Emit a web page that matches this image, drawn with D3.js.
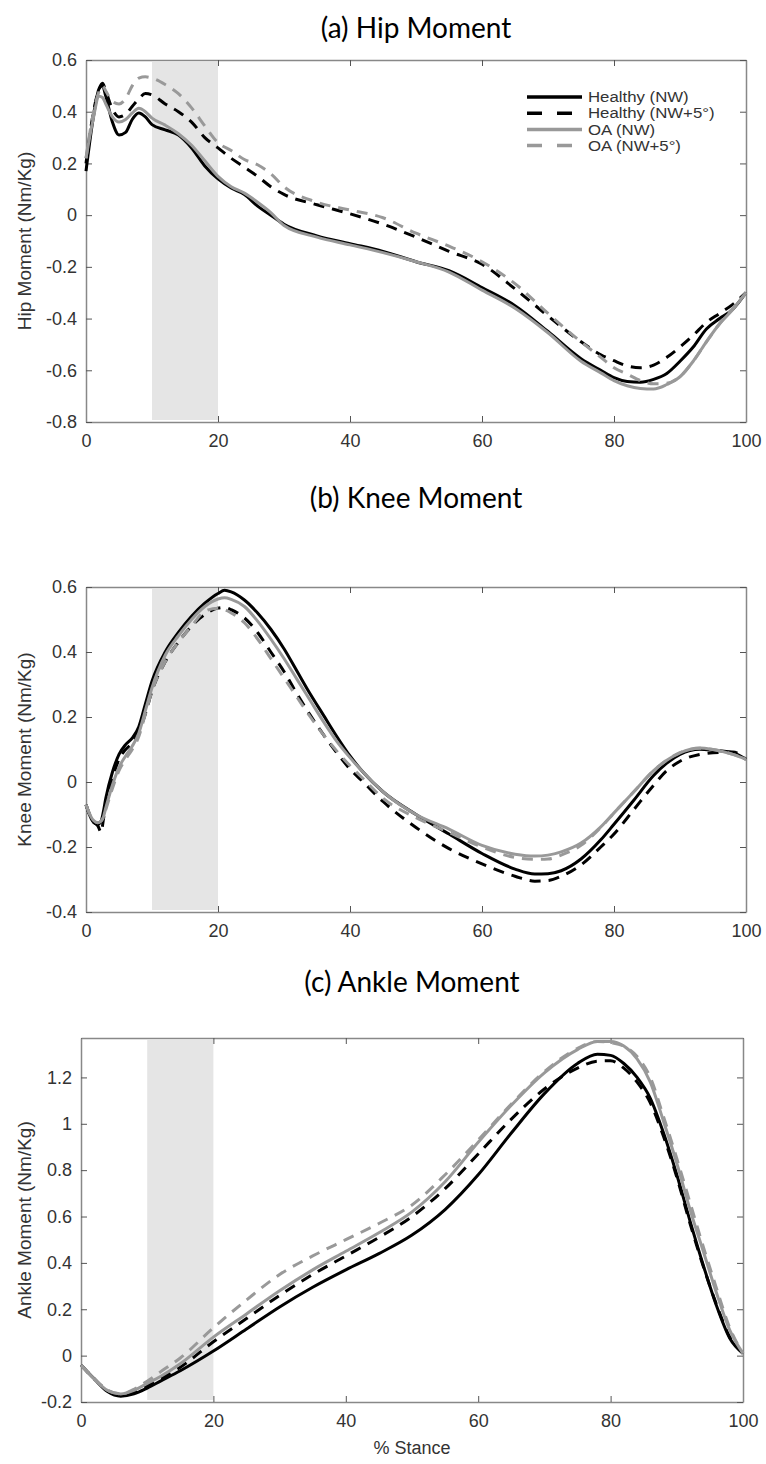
<!DOCTYPE html>
<html>
<head>
<meta charset="utf-8">
<script src="https://cdn.jsdelivr.net/npm/d3@7"></script>
<style>
  body { margin: 0; background: #fff; }
  svg { display: block; }
  .tick text { font-family: "Liberation Sans", Arial, sans-serif; font-size: 18px; fill: #333; }
  .tick line { stroke: #555; }
  .domain { stroke: #888; stroke-width: 1.5; }
</style>
</head>
<body>
<svg id="fig" width="766" height="1464"></svg>
<script>
const seriesNames = ["Healthy (NW)", "Healthy (NW+5\u00b0)", "OA (NW)", "OA (NW+5\u00b0)"];
const xTicks = [0, 20, 40, 60, 80, 100];
const shadeRange = [10, 20];

// hip moment (Nm/Kg) vs % stance
const hipX = [0, 1, 2, 2.5, 3, 4, 5, 6, 7, 8, 9, 10, 12, 14, 16, 18, 20, 22, 24, 26, 28, 30, 35, 40, 45, 50, 55, 60, 65, 70, 75, 78, 80, 82, 84, 86, 88, 90, 92, 94, 96, 98, 100];
const hipHealthyNW = [0.17, 0.36, 0.49, 0.50, 0.46, 0.36, 0.31, 0.32, 0.37, 0.395, 0.38, 0.35, 0.33, 0.31, 0.26, 0.19, 0.14, 0.105, 0.08, 0.035, 0.0, -0.035, -0.08, -0.11, -0.14, -0.18, -0.215, -0.28, -0.35, -0.45, -0.555, -0.60, -0.628, -0.643, -0.646, -0.635, -0.612, -0.565, -0.51, -0.44, -0.40, -0.364, -0.30];
const hipHealthyNW5 = [0.20, 0.38, 0.49, 0.51, 0.48, 0.41, 0.38, 0.39, 0.42, 0.45, 0.47, 0.465, 0.43, 0.40, 0.36, 0.30, 0.26, 0.22, 0.185, 0.15, 0.11, 0.08, 0.04, 0.005, -0.035, -0.085, -0.14, -0.19, -0.285, -0.39, -0.49, -0.54, -0.563, -0.583, -0.59, -0.58, -0.55, -0.51, -0.465, -0.415, -0.38, -0.345, -0.30];
const hipOANW = [0.22, 0.36, 0.46, 0.455, 0.43, 0.38, 0.36, 0.37, 0.395, 0.413, 0.40, 0.375, 0.348, 0.315, 0.27, 0.21, 0.15, 0.11, 0.085, 0.05, 0.01, -0.04, -0.085, -0.115, -0.145, -0.18, -0.22, -0.29, -0.36, -0.455, -0.565, -0.61, -0.64, -0.66, -0.67, -0.672, -0.655, -0.625, -0.565, -0.49, -0.42, -0.365, -0.30];
const hipOANW5 = [0.22, 0.38, 0.48, 0.50, 0.48, 0.44, 0.43, 0.45, 0.50, 0.53, 0.535, 0.53, 0.505, 0.47, 0.415, 0.345, 0.28, 0.25, 0.215, 0.195, 0.16, 0.11, 0.05, 0.02, -0.01, -0.07, -0.12, -0.18, -0.265, -0.38, -0.49, -0.55, -0.59, -0.615, -0.64, -0.652, -0.65, -0.625, -0.565, -0.49, -0.42, -0.36, -0.30];
const hipYTicks = [-0.8, -0.6, -0.4, -0.2, 0, 0.2, 0.4, 0.6];

// knee moment
const kneeX = [0, 1, 1.8, 2.3, 2.6, 3, 4, 5, 6, 7, 8, 9, 10, 12, 14, 16, 18, 20, 21, 22, 24, 26, 28, 30, 32, 34, 36, 38, 40, 42, 45, 50, 55, 60, 65, 68, 70, 72, 75, 78, 80, 83, 86, 88, 90, 93, 95, 98, 100];
const kneeHealthyNW = [-0.07, -0.12, -0.13, -0.12, -0.095, -0.05, 0.03, 0.085, 0.115, 0.135, 0.17, 0.24, 0.31, 0.40, 0.46, 0.51, 0.55, 0.58, 0.59, 0.585, 0.56, 0.52, 0.47, 0.41, 0.34, 0.27, 0.205, 0.14, 0.08, 0.03, -0.03, -0.10, -0.16, -0.22, -0.268, -0.283, -0.282, -0.273, -0.237, -0.178, -0.13, -0.056, 0.02, 0.058, 0.085, 0.101, 0.098, 0.09, 0.07];
const kneeHealthyNW5 = [-0.07, -0.12, -0.135, -0.155, -0.12, -0.065, 0.01, 0.07, 0.10, 0.12, 0.155, 0.21, 0.28, 0.37, 0.43, 0.48, 0.515, 0.535, 0.537, 0.53, 0.505, 0.46, 0.40, 0.34, 0.27, 0.205, 0.145, 0.09, 0.04, 0.0, -0.06, -0.14, -0.205, -0.252, -0.29, -0.305, -0.303, -0.29, -0.255, -0.20, -0.16, -0.085, -0.01, 0.035, 0.064, 0.085, 0.09, 0.092, 0.07];
const kneeOANW = [-0.07, -0.115, -0.125, -0.12, -0.11, -0.08, -0.01, 0.045, 0.08, 0.11, 0.15, 0.22, 0.29, 0.39, 0.45, 0.50, 0.54, 0.563, 0.567, 0.562, 0.54, 0.495, 0.44, 0.38, 0.315, 0.25, 0.185, 0.125, 0.075, 0.03, -0.03, -0.10, -0.145, -0.195, -0.222, -0.228, -0.225, -0.215, -0.188, -0.138, -0.095, -0.03, 0.035, 0.067, 0.09, 0.105, 0.10, 0.085, 0.07];
const kneeOANW5 = [-0.07, -0.115, -0.125, -0.12, -0.11, -0.085, -0.02, 0.035, 0.07, 0.10, 0.14, 0.21, 0.28, 0.37, 0.43, 0.48, 0.525, 0.535, 0.53, 0.52, 0.49, 0.44, 0.38, 0.32, 0.26, 0.20, 0.145, 0.095, 0.05, 0.01, -0.05, -0.11, -0.155, -0.20, -0.232, -0.238, -0.237, -0.225, -0.195, -0.14, -0.095, -0.03, 0.035, 0.067, 0.09, 0.104, 0.10, 0.085, 0.07];
const kneeYTicks = [-0.4, -0.2, 0, 0.2, 0.4, 0.6];

// ankle moment
const ankleX = [0, 2, 4, 6, 8, 10, 12, 15, 20, 25, 30, 35, 40, 45, 50, 55, 60, 65, 70, 75, 78, 80, 82, 84, 86, 88, 90, 92, 94, 96, 98, 100];
const ankleHealthyNW = [-0.04, -0.10, -0.155, -0.175, -0.165, -0.14, -0.11, -0.065, 0.02, 0.115, 0.21, 0.295, 0.37, 0.44, 0.52, 0.63, 0.78, 0.96, 1.13, 1.26, 1.30, 1.295, 1.26, 1.20, 1.11, 0.96, 0.78, 0.58, 0.39, 0.215, 0.075, 0.01];
const ankleHealthyNW5 = [-0.04, -0.10, -0.15, -0.17, -0.16, -0.13, -0.10, -0.05, 0.06, 0.16, 0.26, 0.35, 0.43, 0.51, 0.60, 0.72, 0.87, 1.02, 1.15, 1.24, 1.27, 1.272, 1.24, 1.18, 1.09, 0.945, 0.77, 0.57, 0.385, 0.22, 0.08, 0.01];
const ankleOANW = [-0.04, -0.10, -0.15, -0.165, -0.15, -0.12, -0.09, -0.035, 0.08, 0.18, 0.28, 0.37, 0.45, 0.53, 0.62, 0.75, 0.92, 1.08, 1.22, 1.32, 1.355, 1.355, 1.335, 1.28, 1.18, 1.01, 0.83, 0.63, 0.45, 0.27, 0.11, 0.01];
const ankleOANW5 = [-0.04, -0.10, -0.15, -0.165, -0.145, -0.11, -0.07, -0.01, 0.12, 0.24, 0.35, 0.43, 0.50, 0.57, 0.65, 0.78, 0.93, 1.085, 1.225, 1.325, 1.355, 1.35, 1.335, 1.29, 1.20, 1.03, 0.85, 0.66, 0.47, 0.29, 0.12, 0.01];
const ankleYTicks = [-0.2, 0, 0.2, 0.4, 0.6, 0.8, 1, 1.2];

const seriesStyle = [
  { color: "#000", dash: null },
  { color: "#000", dash: "11,8" },
  { color: "#999", dash: null },
  { color: "#999", dash: "11,8" }
];

const panels = [
  { title: "(a) Hip Moment", ylabel: "Hip Moment (Nm/Kg)", x: hipX,
    ys: [hipHealthyNW, hipHealthyNW5, hipOANW, hipOANW5],
    yDomain: [-0.8, 0.6], yTicks: hipYTicks,
    left: 86, right: 746, top: 60, bottom: 422, titleY: 28, legend: true },
  { title: "(b) Knee Moment", ylabel: "Knee Moment (Nm/Kg)", x: kneeX,
    ys: [kneeHealthyNW, kneeHealthyNW5, kneeOANW, kneeOANW5],
    yDomain: [-0.4, 0.6], yTicks: kneeYTicks,
    left: 86, right: 746, top: 587, bottom: 912, titleY: 498 },
  { title: "(c) Ankle Moment", ylabel: "Ankle Moment (Nm/Kg)", x: ankleX,
    ys: [ankleHealthyNW, ankleHealthyNW5, ankleOANW, ankleOANW5],
    yDomain: [-0.2, 1.37], yTicks: ankleYTicks,
    left: 81, right: 743, top: 1038, bottom: 1402, titleY: 982, xlabel: "% Stance" }
];

const svg = d3.select("#fig");

panels.forEach(function (p) {
  const x = d3.scaleLinear().domain([0, 100]).range([p.left, p.right]);
  const y = d3.scaleLinear().domain(p.yDomain).range([p.bottom, p.top]);
  const g = svg.append("g");

  // grey band for 10-20 % stance
  g.append("rect")
    .attr("x", x(shadeRange[0]))
    .attr("y", p.top + 2)
    .attr("width", x(shadeRange[1]) - x(shadeRange[0]))
    .attr("height", p.bottom - p.top - 4)
    .attr("fill", "#e5e5e5");

  // axes on all four sides, ticks pointing inwards
  g.append("g").attr("transform", "translate(0," + p.bottom + ")")
    .call(d3.axisBottom(x).tickValues(xTicks).tickSize(-6).tickSizeOuter(0).tickPadding(12));
  g.append("g").attr("transform", "translate(0," + p.top + ")")
    .call(d3.axisTop(x).tickValues(xTicks).tickSize(-6).tickSizeOuter(0).tickFormat(""));
  g.append("g").attr("transform", "translate(" + p.left + ",0)")
    .call(d3.axisLeft(y).tickValues(p.yTicks).tickSize(-6).tickSizeOuter(0).tickPadding(9)
      .tickFormat((d) => String(d)));
  g.append("g").attr("transform", "translate(" + p.right + ",0)")
    .call(d3.axisRight(y).tickValues(p.yTicks).tickSize(-6).tickSizeOuter(0).tickFormat(""));

  const line = d3.line()
    .x((d) => x(d[0]))
    .y((d) => y(d[1]))
    .curve(d3.curveMonotoneX);

  p.ys.forEach(function (vals, i) {
    g.append("path")
      .datum(p.x.map((v, k) => [v, vals[k]]))
      .attr("fill", "none")
      .attr("stroke", seriesStyle[i].color)
      .attr("stroke-width", 3)
      .attr("stroke-dasharray", seriesStyle[i].dash)
      .attr("d", line);
  });

  svg.append("text")
    .attr("x", (p.left + p.right) / 2)
    .attr("y", p.titleY)
    .attr("dy", "0.35em")
    .attr("text-anchor", "middle")
    .style("font-family", "Lato, 'Open Sans', sans-serif")
    .style("font-size", "28px")
    .attr("fill", "#000")
    .text(p.title);

  svg.append("text")
    .attr("transform", "translate(24," + ((p.top + p.bottom) / 2) + ") rotate(-90)")
    .attr("dy", "0.35em")
    .attr("text-anchor", "middle")
    .style("font-family", "'Liberation Sans', Arial, sans-serif")
    .style("font-size", "19px")
    .attr("fill", "#333")
    .text(p.ylabel);

  if (p.xlabel) {
    svg.append("text")
      .attr("x", (p.left + p.right) / 2)
      .attr("y", p.bottom + 46)
      .attr("dy", "0.35em")
      .attr("text-anchor", "middle")
      .style("font-family", "'Liberation Sans', Arial, sans-serif")
      .style("font-size", "18px")
      .attr("fill", "#333")
      .text(p.xlabel);
  }

  if (p.legend) {
    const lg = svg.append("g").attr("transform", "translate(527,97)");
    seriesNames.forEach(function (name, i) {
      const row = lg.append("g").attr("transform", "translate(0," + (i * 16.2) + ")");
      row.append("line")
        .attr("x1", 0).attr("x2", 55)
        .attr("stroke", seriesStyle[i].color)
        .attr("stroke-width", 3.5)
        .attr("stroke-dasharray", seriesStyle[i].dash ? "15,15" : null);
      row.append("text")
        .attr("transform", "translate(61,0) scale(1.12,1)")
        .attr("dy", "0.35em")
        .style("font-family", "'Liberation Sans', Arial, sans-serif")
        .style("font-size", "15px")
        .attr("fill", "#333")
        .text(name);
    });
  }
});
</script>
</body>
</html>
